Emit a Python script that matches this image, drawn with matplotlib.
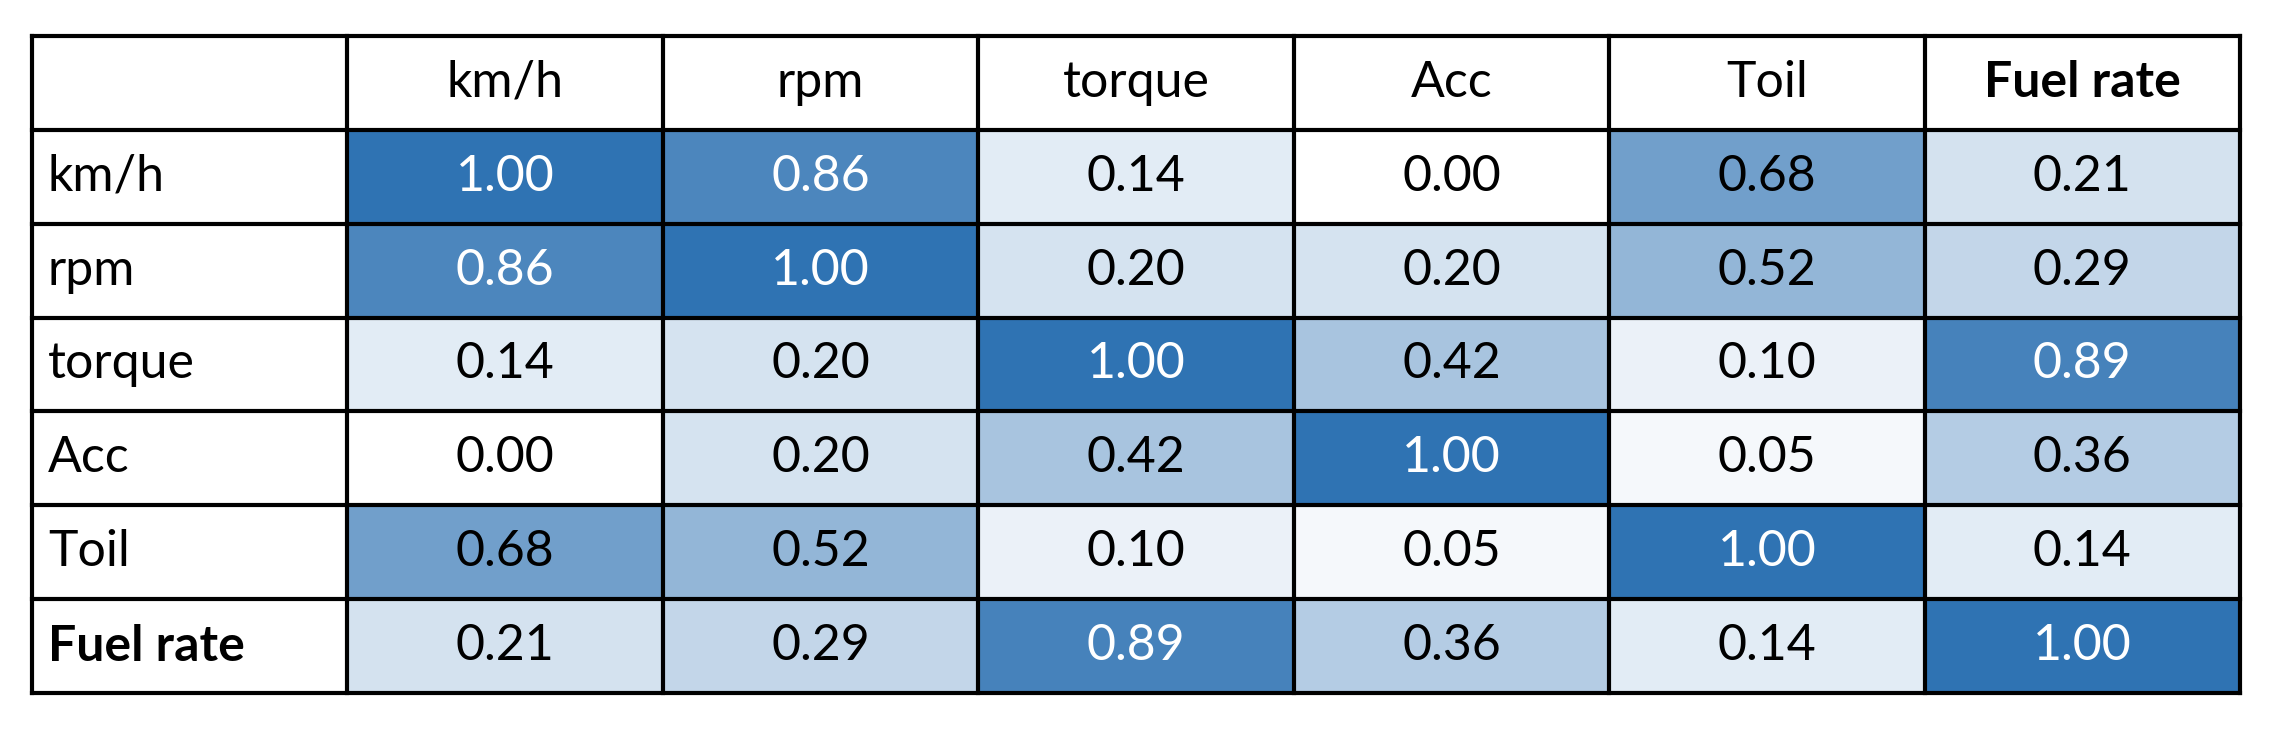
import numpy as np
import matplotlib.pyplot as plt
from matplotlib.colors import LinearSegmentedColormap

labels = ['km/h', 'rpm', 'torque', 'Acc', 'Toil', 'Fuel rate']
corr = [
    [1.00, 0.86, 0.14, 0.00, 0.68, 0.21],
    [0.86, 1.00, 0.20, 0.20, 0.52, 0.29],
    [0.14, 0.20, 1.00, 0.42, 0.10, 0.89],
    [0.00, 0.20, 0.42, 1.00, 0.05, 0.36],
    [0.68, 0.52, 0.10, 0.05, 1.00, 0.14],
    [0.21, 0.29, 0.89, 0.36, 0.14, 1.00],
]
bold = {'Fuel rate'}

cmap = LinearSegmentedColormap.from_list('wb', ['#ffffff', '#2f73b3'])
plt.rcParams['font.family'] = ['Lato', 'DejaVu Sans']

fig = plt.figure(figsize=(22.73, 7.29), dpi=100)
ax = fig.add_axes([32 / 2273, 36 / 729, (2240 - 32) / 2273, (693 - 36) / 729])
n = len(labels)
ax.set_xlim(0, n + 1)
ax.set_ylim(n + 1, 0)
ax.axis('off')

for i, row in enumerate(corr):
    for j, v in enumerate(row):
        ax.add_patch(plt.Rectangle((j + 1, i + 1), 1, 1, color=cmap(v), lw=0))
        ax.text(j + 1.5, i + 1.5, f'{v:.2f}', ha='center', va='center', fontsize=36,
                color='white' if v > 0.8 else 'black')

for k, lab in enumerate(labels):
    w = 'bold' if lab in bold else 'normal'
    ax.text(k + 1.5, 0.5, lab, ha='center', va='center', fontsize=36, fontweight=w)
    ax.text(0.05, k + 1.5, lab, ha='left', va='center', fontsize=36, fontweight=w)

for k in range(n + 2):
    ax.plot([k, k], [0, n + 1], color='black', lw=3, solid_capstyle='projecting', clip_on=False)
    ax.plot([0, n + 1], [k, k], color='black', lw=3, solid_capstyle='projecting', clip_on=False)

fig.savefig('out.png', dpi=100)
